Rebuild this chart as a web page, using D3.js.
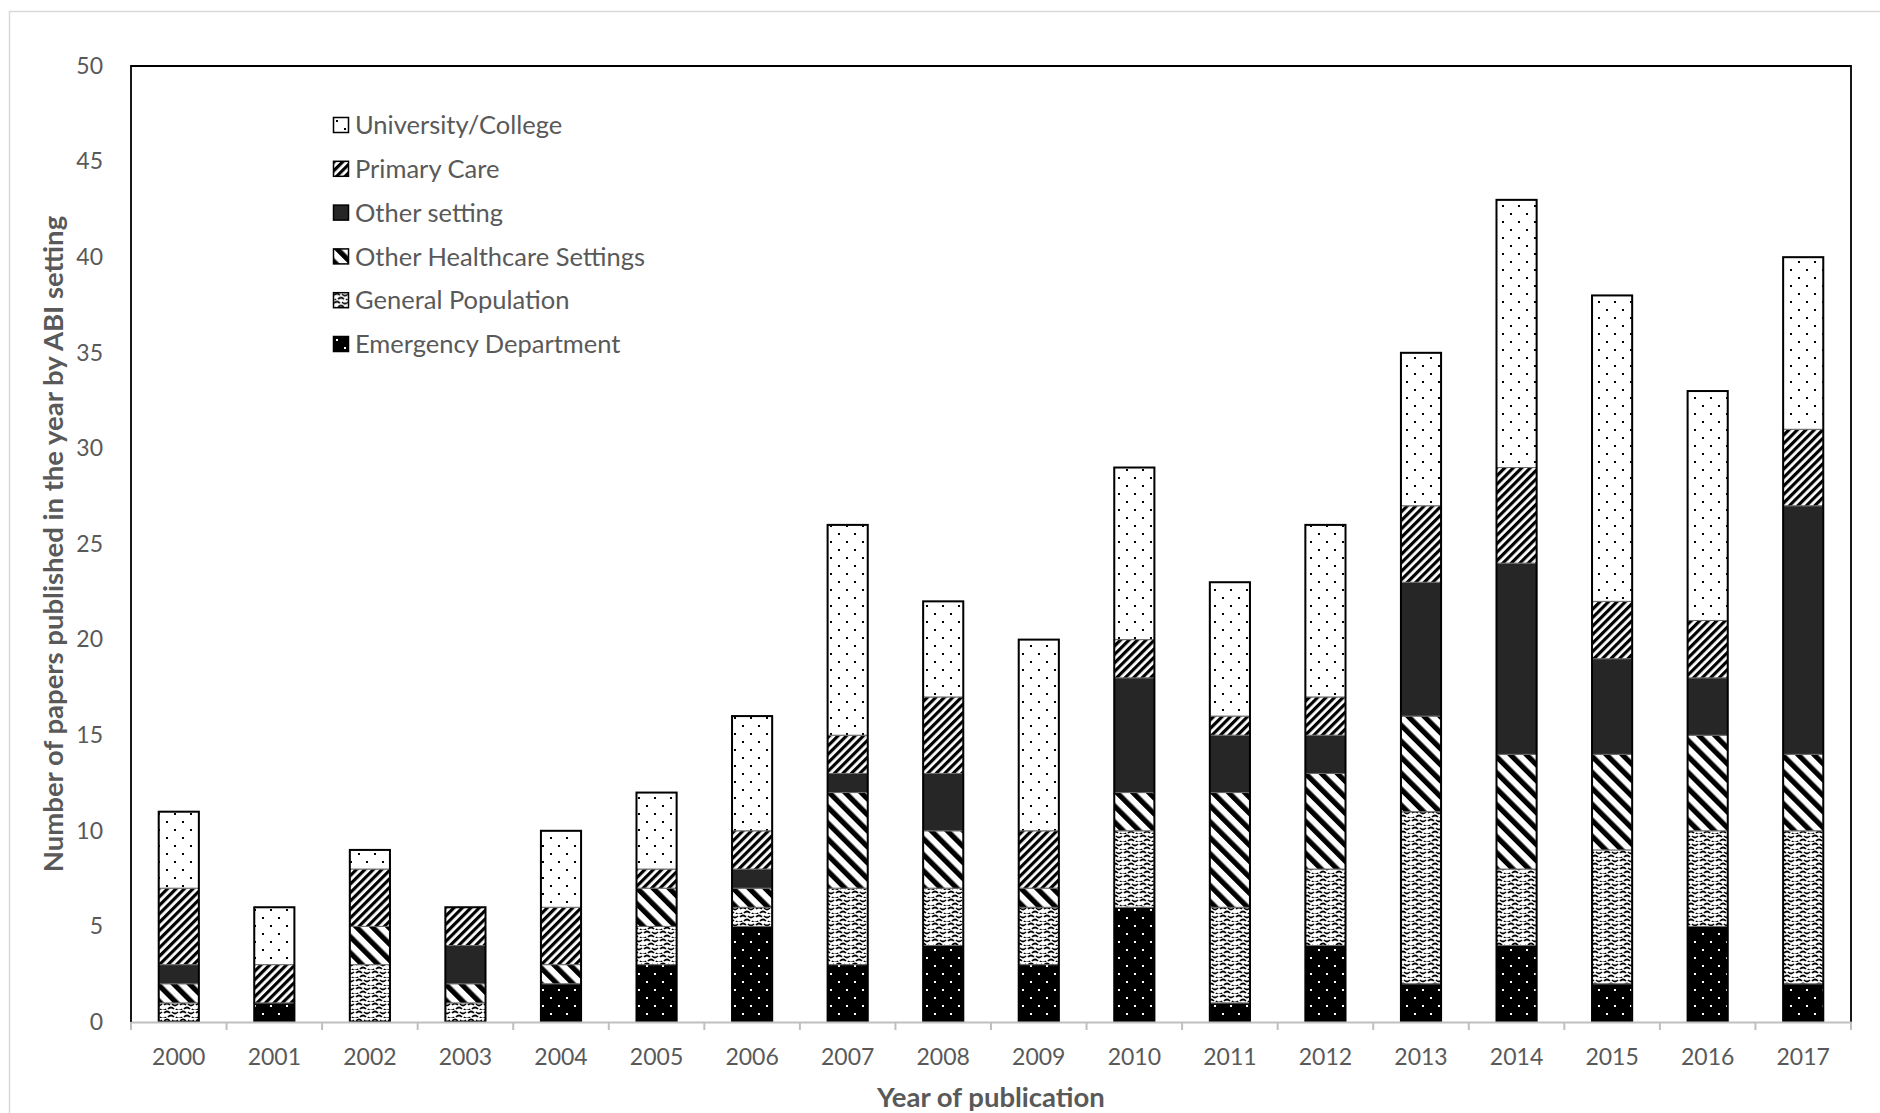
<!DOCTYPE html>
<html>
<head>
<meta charset="utf-8">
<script src="https://cdn.jsdelivr.net/npm/d3@7"></script>
<style>
  body { margin: 0; background: #fff; }
  svg { display: block; }
</style>
</head>
<body>
<div id="chart-area"></div>
<script>
// data
var years = ["2000","2001","2002","2003","2004","2005","2006","2007","2008","2009",
             "2010","2011","2012","2013","2014","2015","2016","2017"];
// stack order, bottom to top
var settings = ["Emergency Department", "General Population", "Other Healthcare Settings",
                "Other setting", "Primary Care", "University/College"];
var emergency   = [0,1,0,0,2,3,5,3,4,3,6,1,4,2,4,2,5,2];
var generalPop  = [1,0,3,1,0,2,1,4,3,3,4,5,4,9,4,7,5,8];
var otherHealth = [1,0,2,1,1,2,1,5,3,1,2,6,5,5,6,5,5,4];
var otherSet    = [1,0,0,2,0,0,1,1,3,0,6,3,2,7,10,5,3,13];
var primaryCare = [4,2,3,2,3,1,2,2,4,3,2,1,2,4,5,3,3,4];
var university  = [4,3,1,0,4,4,6,11,5,10,9,7,9,8,14,16,12,9];
var yTicks = [0,5,10,15,20,25,30,35,40,45,50];

var seriesValues = [emergency, generalPop, otherHealth, otherSet, primaryCare, university];
var patternIds = ["pat-ed", "pat-gp", "pat-ohs", "pat-other", "pat-pc", "pat-uni"];

function init() {
    var svgWidth = 1880;
    var svgHeight = 1113;
    var margin = { top: 66, right: 29, bottom: 91, left: 131 };
    var chartWidth = svgWidth - margin.left - margin.right;
    var chartHeight = svgHeight - margin.top - margin.bottom;
    var textColor = "#595959";
    var fontFam = "Lato, 'Open Sans', sans-serif";

    var svg = d3.select("#chart-area")
        .append("svg")
        .attr("width", svgWidth)
        .attr("height", svgHeight);

    // patterns
    var defs = svg.append("defs");

    // university: white with black dots
    var p = defs.append("pattern").attr("id", "pat-uni")
        .attr("patternUnits", "userSpaceOnUse").attr("width", 16).attr("height", 16);
    p.append("rect").attr("width", 16).attr("height", 16).attr("fill", "#fff");
    p.append("rect").attr("x", 3).attr("y", 3).attr("width", 2).attr("height", 2).attr("fill", "#000");
    p.append("rect").attr("x", 11).attr("y", 11).attr("width", 2).attr("height", 2).attr("fill", "#000");

    // emergency: black with white dots
    p = defs.append("pattern").attr("id", "pat-ed")
        .attr("patternUnits", "userSpaceOnUse").attr("width", 16).attr("height", 16);
    p.append("rect").attr("width", 16).attr("height", 16).attr("fill", "#000");
    p.append("rect").attr("x", 3).attr("y", 3).attr("width", 2).attr("height", 2).attr("fill", "#fff");
    p.append("rect").attr("x", 11).attr("y", 11).attr("width", 2).attr("height", 2).attr("fill", "#fff");

    // primary care: thin dark upward diagonal
    p = defs.append("pattern").attr("id", "pat-pc")
        .attr("patternUnits", "userSpaceOnUse").attr("width", 6).attr("height", 6)
        .attr("patternTransform", "rotate(45)");
    p.append("rect").attr("width", 6).attr("height", 6).attr("fill", "#fff");
    p.append("rect").attr("width", 3.2).attr("height", 6).attr("fill", "#000");

    // other healthcare: wide downward diagonal
    p = defs.append("pattern").attr("id", "pat-ohs")
        .attr("patternUnits", "userSpaceOnUse").attr("width", 11.3).attr("height", 11.3)
        .attr("patternTransform", "rotate(-45)");
    p.append("rect").attr("width", 11.3).attr("height", 11.3).attr("fill", "#fff");
    p.append("rect").attr("width", 5.2).attr("height", 11.3).attr("fill", "#000");

    // other setting: solid dark
    p = defs.append("pattern").attr("id", "pat-other")
        .attr("patternUnits", "userSpaceOnUse").attr("width", 8).attr("height", 8);
    p.append("rect").attr("width", 8).attr("height", 8).attr("fill", "#262626");

    // general population: small waves
    p = defs.append("pattern").attr("id", "pat-gp")
        .attr("patternUnits", "userSpaceOnUse").attr("width", 16).attr("height", 8);
    p.append("rect").attr("width", 16).attr("height", 8).attr("fill", "#fff");
    p.append("path").attr("d", "M1,3 q3,-3 6,0 M9,2 q3,3 6,0")
        .attr("fill", "none").attr("stroke", "#000").attr("stroke-width", 1.7);
    p.append("path").attr("d", "M-3,7 q3,3 6,0 M5,7 q3,-3 6,0 M13,7 q3,3 6,0")
        .attr("fill", "none").attr("stroke", "#000").attr("stroke-width", 1.7);

    // outer chart frame
    svg.append("rect")
        .attr("x", 9.5).attr("y", 11.5)
        .attr("width", svgWidth + 20).attr("height", svgHeight + 20)
        .attr("fill", "none").attr("stroke", "#d9d9d9").attr("stroke-width", 1.5);

    var chartGroup = svg.append("g")
        .attr("transform", "translate(" + margin.left + "," + margin.top + ")");

    var xScale = d3.scaleBand()
        .domain(years)
        .range([0, chartWidth])
        .paddingInner(0.58)
        .paddingOuter(0.29);

    var yScale = d3.scaleLinear()
        .domain([0, 50])
        .range([chartHeight, 0]);

    // table for stacking
    var table = years.map(function(y, i) {
        var row = { year: y };
        settings.forEach(function(s, j) { row[s] = seriesValues[j][i]; });
        return row;
    });
    var stacked = d3.stack().keys(settings)(table);

    // bars
    stacked.forEach(function(layer, j) {
        chartGroup.append("g")
            .selectAll("rect")
            .data(layer.filter(function(d) { return d[1] > d[0]; }))
            .enter()
            .append("rect")
            .attr("x", function(d) { return xScale(d.data.year); })
            .attr("y", function(d) { return yScale(d[1]); })
            .attr("width", xScale.bandwidth())
            .attr("height", function(d) { return yScale(d[0]) - yScale(d[1]); })
            .attr("fill", "url(#" + patternIds[j] + ")")
            .attr("stroke", "#6b6b6b")
            .attr("stroke-width", 1);
    });

    // bar outlines
    var top = stacked[stacked.length - 1];
    chartGroup.append("g")
        .selectAll("rect")
        .data(top)
        .enter()
        .append("rect")
        .attr("x", function(d) { return xScale(d.data.year); })
        .attr("y", function(d) { return yScale(d[1]); })
        .attr("width", xScale.bandwidth())
        .attr("height", function(d) { return yScale(0) - yScale(d[1]); })
        .attr("fill", "none")
        .attr("stroke", "#000")
        .attr("stroke-width", 2);

    // plot area border (left, top, right)
    chartGroup.append("path")
        .attr("d", "M0," + chartHeight + "V0H" + chartWidth + "V" + chartHeight)
        .attr("fill", "none").attr("stroke", "#000").attr("stroke-width", 1.8);

    // y axis labels
    var leftAxis = d3.axisLeft(yScale).tickValues(yTicks).tickSize(0).tickPadding(28);
    var yAxis = chartGroup.append("g").call(leftAxis);
    yAxis.select(".domain").remove();
    yAxis.selectAll("text")
        .attr("font-family", fontFam)
        .attr("font-size", "23px")
        .attr("fill", textColor);

    // x axis
    var botAxis = d3.axisBottom(xScale).tickSize(0).tickPadding(27);
    var xAxis = chartGroup.append("g")
        .attr("transform", "translate(0," + chartHeight + ")")
        .call(botAxis);
    xAxis.select(".domain").attr("stroke", "#bfbfbf").attr("stroke-width", 2);
    xAxis.selectAll("text")
        .attr("font-family", fontFam)
        .attr("font-size", "23px")
        .attr("fill", textColor);

    // category boundary ticks
    var step = xScale.step();
    var boundaries = d3.range(years.length + 1).map(function(i) { return i * step; });
    xAxis.append("g").selectAll("line")
        .data(boundaries)
        .enter()
        .append("line")
        .attr("x1", function(d) { return d; })
        .attr("x2", function(d) { return d; })
        .attr("y1", 0).attr("y2", 8)
        .attr("stroke", "#bfbfbf").attr("stroke-width", 2);

    // axis titles
    svg.append("text")
        .attr("x", margin.left + chartWidth / 2)
        .attr("y", 1107)
        .attr("text-anchor", "middle")
        .attr("font-family", fontFam)
        .attr("font-weight", "bold")
        .attr("font-size", "27.5px")
        .attr("fill", textColor)
        .text("Year of publication");

    svg.append("text")
        .attr("transform", "translate(63," + (margin.top + chartHeight / 2) + ") rotate(-90)")
        .attr("text-anchor", "middle")
        .attr("font-family", fontFam)
        .attr("font-weight", "bold")
        .attr("font-size", "27.5px")
        .attr("fill", textColor)
        .text("Number of papers published in the year by ABI setting");

    // legend, top entry is University/College
    var legendOrder = settings.slice().reverse();
    var legendPats = patternIds.slice().reverse();
    var legend = svg.append("g").attr("transform", "translate(333,117)");
    legendOrder.forEach(function(name, i) {
        var row = legend.append("g").attr("transform", "translate(0," + (i * 43.8) + ")");
        row.append("rect")
            .attr("x", 0.5).attr("y", 0.5)
            .attr("width", 15).attr("height", 15)
            .attr("fill", "url(#" + legendPats[i] + ")")
            .attr("stroke", "#000").attr("stroke-width", 1.5);
        row.append("text")
            .attr("x", 22)
            .attr("y", 8)
            .attr("dy", "0.36em")
            .attr("font-family", fontFam)
            .attr("font-size", "25.5px")
            .attr("fill", textColor)
            .text(name);
    });
}

window.addEventListener('load', init, false)
</script>
</body>
</html>
